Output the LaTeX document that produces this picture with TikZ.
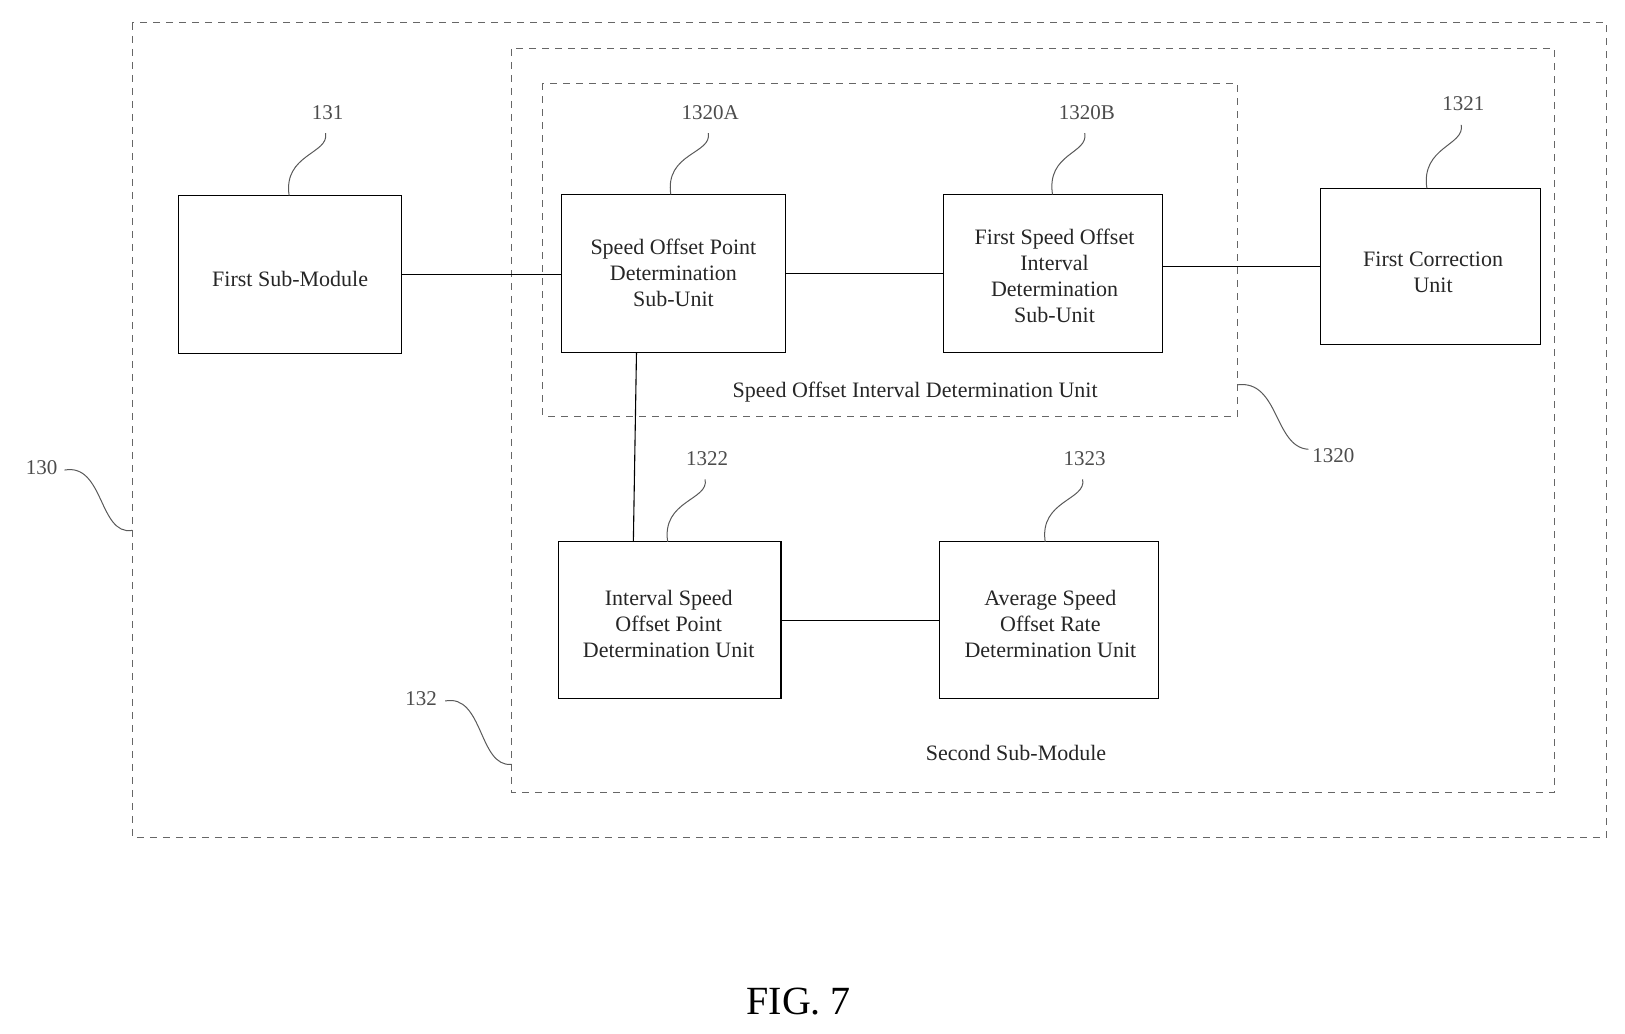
\documentclass[tikz,border=0pt]{standalone}
\usepackage{fontspec}
\setmainfont{Liberation Serif}
\begin{document}
\begin{tikzpicture}[x=1.04pt,y=-1.04pt,
  box/.style={draw,line width=1.2pt,minimum width=0pt},
  grp/.style={draw=gray!80!black,line width=1pt,dash pattern=on 7pt off 6pt},
  txt/.style={font=\fontsize{22}{26}\selectfont,align=center,text=black!85},
  lab/.style={font=\fontsize{21}{24}\selectfont,text=gray!60!black},
  sq/.style={draw=gray!70!black,line width=1pt},
  ln/.style={draw,line width=1.1pt}]
\useasboundingbox (0,0) rectangle (1562.5,994.2);
\draw[grp] (127,22) rectangle (1545,805);
\draw[grp] (492,47) rectangle (1495,762);
\draw[grp] (522,80) rectangle (1190,400);
\draw[box] (172,188) rectangle (386,340); \node[txt] (a) at (279,268) {First Sub-Module};
\draw[box] (540,187) rectangle (755,339); \node[txt] (b) at (647.5,262) {Speed Offset Point\\Determination\\Sub-Unit};
\draw[box] (907,187) rectangle (1118,339); \node[txt] (c) at (1014,265) {First Speed Offset\\Interval\\Determination\\Sub-Unit};
\draw[box] (1270,181) rectangle (1481,331); \node[txt] (d) at (1378,262) {First Correction\\Unit};
\draw[box] (537,521) rectangle (751,672); \node[txt] (e) at (643,600) {Interval Speed\\Offset Point\\Determination Unit};
\draw[box] (903,521) rectangle (1114,672); \node[txt] (f) at (1010,600) {Average Speed\\Offset Rate\\Determination Unit};
\coordinate (a1) at (386,264); \coordinate (b1) at (540,264);
\coordinate (b2) at (755,263); \coordinate (c1) at (907,263);
\coordinate (c2) at (1118,256); \coordinate (d1) at (1270,256);
\coordinate (b3) at (612,339); \coordinate (e1) at (609,521);
\coordinate (e2) at (751,597); \coordinate (f1) at (903,597);
\draw[ln] (a1)--(b1); \draw[ln] (b2)--(c1); \draw[ln] (c2)--(d1); \draw[ln] (b3)--(e1); \draw[ln] (e2)--(f1);
\node[txt] (t1) at (880,377) {Speed Offset Interval Determination Unit};
\node[txt] (t2) at (977,724) {Second Sub-Module};
\node[font=\fontsize{40}{44}\selectfont] (fig) at (768,963) {FIG. 7};
\foreach \n/\lx/\ly/\sx/\sy in {131/315/108/278/188, 1320A/683/108/645/187, 1320B/1045/108/1012/187, 1321/1407/100/1372/181, 1322/680/441/642/521, 1323/1043/441/1005/521}{
  \node[lab] (l\n) at (\lx,\ly) {\n};
  \draw[sq] (\sx,\sy) .. controls (\sx-6,\sy-40) and (\lx+2,\ly+40) .. (\lx-2,\ly+20);
}
\node[lab] (l1320) at (1282,438) {1320};
\draw[sq] (1190,370) .. controls (1230,365) and (1225,430) .. (1258,432);
\node[lab] (l130) at (40,450) {130};
\draw[sq] (62,452) .. controls (100,445) and (95,515) .. (127,510);
\node[lab] (l132) at (405,672) {132};
\draw[sq] (428,674) .. controls (465,667) and (460,738) .. (492,735);
\end{tikzpicture}
\end{document}
